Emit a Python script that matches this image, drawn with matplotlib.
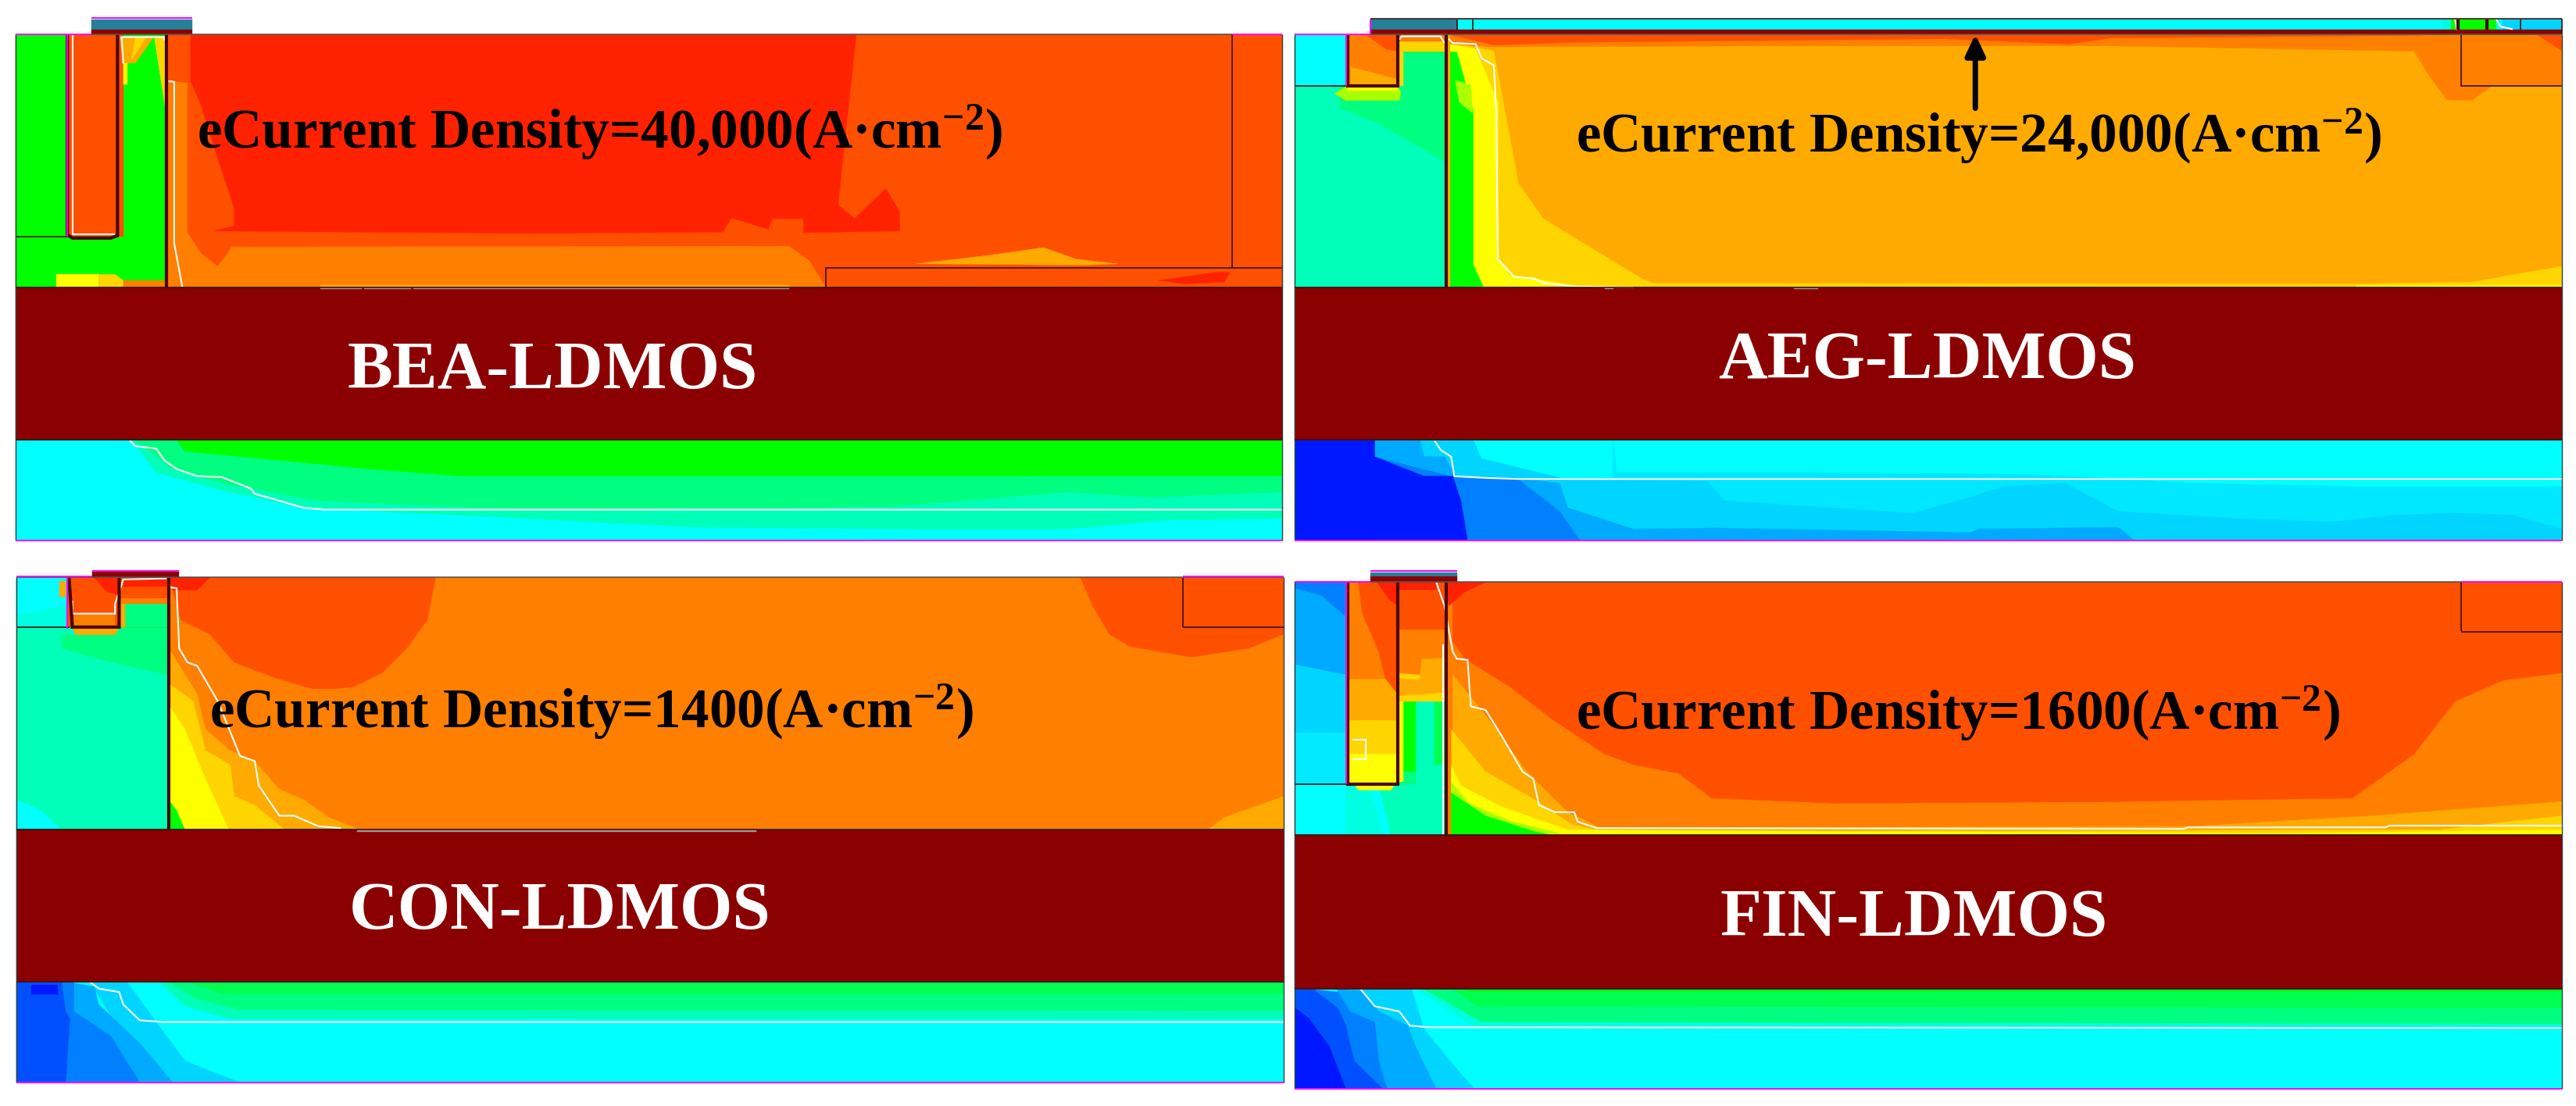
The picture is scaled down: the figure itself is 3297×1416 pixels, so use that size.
#!/usr/bin/env python3
"""Four LDMOS eCurrent density maps, redrawn as filled contour layers."""
import matplotlib
matplotlib.use('Agg')
import matplotlib.pyplot as plt

plt.rcParams['mathtext.default'] = 'regular'
plt.rcParams['font.family'] = ['Liberation Serif', 'DejaVu Serif']

W, H = 3298, 1416

# field colours, high to low
RED = '#ff2200'
ORED = '#ff5000'
ORG = '#ff7f00'
AMB = '#ffaa00'
GLD = '#ffd500'
YEL = '#ffff00'
YGR = '#aaff00'
GRN = '#00ff00'
G2 = '#00ff50'
G3 = '#00ff80'
SPR = '#00ffb8'
C2 = '#00ffe0'
CYA = '#00ffff'
S1 = '#00d5ff'
S2 = '#00aaff'
S3 = '#0080ff'
S4 = '#0050ff'
BLU = '#0018ff'
DRED = '#8b0000'
MAG = '#ff00ff'
TEAL = '#25809a'
EDGE = '#3a1010'


def box(x0, y0, x1, y1):
    return [(x0, y0), (x1, y0), (x1, y1), (x0, y1)]


labels = ['BEA-LDMOS', 'AEG-LDMOS', 'CON-LDMOS', 'FIN-LDMOS']
densities = ['40,000', '24,000', '1400', '1600']

# ---- BEA ----
bea_silicon = (19, 97, 1560, 815)
bea_oxide_bottom, bea_bottom = 1247, 1533
bea_layers = [
    (ORED, box(19, 97, 1560, 815)),
    (RED, [(232, 100), (1042, 100), (1020, 580), (1040, 620), (1078, 535), (1095, 600), (1095, 655),
           (978, 660), (978, 620), (940, 620), (935, 650), (890, 618), (880, 658), (650, 662), (260, 655),
           (285, 640), (285, 590), (265, 450), (245, 300), (232, 230)]),
    (ORG, [(205, 230), (228, 235), (228, 660), (245, 720), (265, 755), (275, 725), (282, 700), (960, 698),
           (985, 740), (1005, 815), (205, 815)]),
    (ORED, box(1005, 760, 1560, 815)),
    (AMB, [(1115, 748), (1200, 725), (1270, 702), (1310, 735), (1360, 748), (1320, 752)]),
    (RED, [(1410, 795), (1480, 772), (1497, 772), (1490, 800), (1440, 805)]),
    (AMB, box(390, 808, 960, 815)),
    (GRN, box(19, 97, 203, 815)),
    (ORED, box(82, 97, 143, 672)),
    (ORED, box(143, 97, 150, 672)),
    (AMB, [(146, 105), (187, 105), (165, 178), (150, 180)]),
    (GLD, [(187, 105), (202, 105), (202, 320), (188, 108)]),
    (GLD, [(165, 105), (178, 105), (160, 170)]),
    (YEL, box(150, 180, 155, 240)),
    (YEL, box(68, 778, 120, 815)),
    (GLD, [(120, 778), (140, 778), (150, 795), (150, 815), (120, 815)]),
    (ORG, box(150, 795, 203, 815)),
]
bea_sub_layers = [
    (CYA, box(19, 1247, 1560, 1533)),
    (SPR, [(160, 1247), (190, 1340), (270, 1390), (370, 1440), (600, 1465), (850, 1495), (1100, 1500),
           (1300, 1500), (1420, 1475), (1560, 1470), (1560, 1247)]),
    (G3, [(165, 1247), (210, 1330), (280, 1375), (390, 1420), (640, 1445), (950, 1440), (1090, 1435),
          (1300, 1395), (1400, 1410), (1560, 1395), (1560, 1247)]),
    (GRN, [(215, 1247), (225, 1280), (340, 1305), (450, 1330), (560, 1350), (1560, 1350), (1560, 1247)]),
]
bea_white = [[(205, 230), (212, 232), (212, 690), (220, 790), (222, 815)],
             [(88, 97), (88, 665), (140, 665)],
             [(150, 180), (148, 105), (200, 105), (200, 115)],
             [(158, 1250), (165, 1265), (190, 1272), (200, 1305), (215, 1330), (240, 1350), (270, 1353),
              (305, 1385), (310, 1400), (370, 1440), (395, 1445), (1560, 1445)]]
bea_dark = [[(203, 97), (203, 815)], [(143, 97), (143, 668), (135, 675), (88, 675), (82, 665), (82, 97)]]
bea_thin = [[(19, 672), (85, 672)], [(1500, 97), (1500, 760)], [(1560, 760), (1005, 760), (1005, 815)]]
bea_magenta = [[(19, 98), (111, 98)], [(1500, 97), (1560, 97)], [(111, 52), (234, 52)], [(19, 1533), (1560, 1533)],
               [(82, 100), (82, 670)]]

# ---- AEG ----
aeg_silicon = (8, 97, 1550, 815)
aeg_oxide_bottom, aeg_bottom = 1247, 1533
aeg_layers = [
    (AMB, box(8, 97, 1550, 815)),
    (GLD, [(197, 120), (250, 145), (280, 520), (310, 620), (430, 790), (445, 803), (1300, 805), (1440, 800),
           (1550, 755), (1550, 815), (197, 815)]),
    (YEL, [(197, 125), (228, 140), (255, 290), (255, 730), (270, 780), (350, 810), (197, 815)]),
    (YEL, box(1300, 808, 1550, 815)),
    (GRN, [(197, 147), (205, 147), (225, 316), (225, 750), (237, 812), (197, 815)]),
    (YGR, [(203, 228), (222, 240), (224, 320), (208, 290)]),
    (ORG, [(197, 100), (1550, 100), (1550, 243), (1465, 243), (1440, 285), (1410, 283), (1390, 220),
           (1370, 145), (1000, 130), (600, 130), (250, 133), (197, 125)]),
    (ORED, [(200, 100), (250, 128), (350, 120), (800, 110), (950, 125), (1000, 108), (1380, 100)]),
    (ORED, [(1520, 100), (1550, 100), (1550, 145)]),
    (SPR, box(8, 97, 192, 815)),
    (CYA, box(8, 97, 72, 243)),
    (G3, [(62, 243), (140, 243), (140, 147), (190, 147), (192, 460), (110, 350), (62, 305)]),
    (G2, box(140, 147, 190, 150)),
    (GLD, box(133, 115, 140, 243)),
    (GLD, box(133, 115, 192, 147)),
    (ORG, box(133, 97, 192, 118)),
    (YGR, [(56, 265), (72, 243), (133, 243), (137, 262), (135, 285), (70, 285)]),
    (YEL, box(72, 243, 133, 258)),
    (ORG, box(72, 97, 133, 243)),
    (ORED, [(95, 100), (133, 100), (133, 145), (120, 140)]),
    (AMB, [(76, 190), (133, 225), (133, 240), (76, 240)]),
]
aeg_sub_layers = [
    (CYA, box(8, 1247, 1550, 1533)),
    ('#00e8ff', [(395, 1247), (400, 1340), (640, 1340), (900, 1345), (1100, 1370), (1300, 1380), (1550, 1380),
                 (1550, 1533), (395, 1533)]),
    (S1, [(105, 1247), (225, 1247), (235, 1300), (340, 1360), (510, 1365), (530, 1420), (660, 1440), (760, 1455),
          (830, 1410), (870, 1380), (945, 1370), (1010, 1450), (1150, 1470), (1270, 1480), (1350, 1460),
          (1420, 1455), (1490, 1460), (1550, 1500), (1550, 1533), (105, 1533)]),
    (S2, [(105, 1247), (160, 1247), (165, 1295), (190, 1295), (205, 1350), (275, 1355), (330, 1370), (340, 1440),
          (420, 1500), (520, 1497), (830, 1510), (840, 1500), (1010, 1495), (1030, 1533), (105, 1533)]),
    (S3, [(105, 1295), (205, 1355), (280, 1360), (330, 1450), (355, 1533), (105, 1533)]),
    (BLU, [(8, 1247), (105, 1247), (105, 1295), (165, 1350), (200, 1350), (210, 1420), (218, 1533), (8, 1533)]),
]
aeg_top_layers = [
    (CYA, box(100, 55, 1550, 85)),
    (TEAL, box(100, 55, 205, 85)),
    (C2, box(1404, 55, 1415, 85)),
    (GRN, box(1415, 55, 1470, 85)),
    (C2, box(1470, 55, 1478, 85)),
    (S1, box(1478, 55, 1550, 85)),
    (DRED, box(100, 85, 1550, 97)),
]
aeg_white = [[(195, 110), (200, 122), (228, 125), (235, 165), (250, 185), (253, 320), (255, 735), (275, 785),
              (300, 790), (310, 802), (345, 812), (420, 815)],
             [(135, 112), (138, 103), (185, 103), (190, 122)],
             [(1420, 55), (1422, 85)], [(1470, 55), (1475, 75), (1490, 83)],
             [(178, 1250), (185, 1275), (198, 1295), (202, 1350), (240, 1355), (280, 1358), (1550, 1358)]]
aeg_dark = [[(192, 97), (192, 815)], [(72, 97), (72, 243), (133, 243), (133, 97)], [(1423, 55), (1423, 85)],
            [(1459, 55), (1459, 85)]]
aeg_thin = [[(8, 243), (72, 243)], [(1427, 97), (1427, 243), (1550, 243)], [(205, 55), (205, 85)], [(224, 55), (224, 85)],
            [(1500, 55), (1500, 85)], [(100, 54), (1550, 54)], [(1550, 54), (1550, 97)]]
aeg_magenta = [[(8, 98), (100, 98)], [(100, 55), (100, 97)], [(70, 100), (70, 243)], [(8, 1533), (1550, 1533)]]

# ---- CON ----
con_silicon = (20, 68, 1562, 785)
con_oxide_bottom, con_bottom = 1215, 1502
con_layers = [
    (ORG, box(20, 68, 1562, 785)),
    (ORED, [(225, 70), (530, 70), (520, 190), (495, 270), (465, 340), (430, 380), (405, 385), (380, 385), (330, 350),
            (285, 310), (255, 230), (220, 190), (210, 100)]),
    (ORED, [(1315, 70), (1562, 70), (1562, 230), (1520, 270), (1450, 295), (1375, 265), (1350, 230), (1330, 150)]),
    (RED, [(205, 68), (255, 70), (240, 105), (210, 105)]),
    (AMB, [(1470, 785), (1490, 750), (1562, 690), (1562, 785)]),
    (AMB, [(208, 280), (240, 400), (250, 500), (280, 560), (310, 590), (340, 670), (370, 700), (400, 750),
           (435, 782), (205, 785)]),
    (GLD, [(205, 370), (235, 420), (250, 560), (280, 600), (285, 690), (310, 715), (345, 782), (205, 785)]),
    (YEL, [(205, 430), (225, 500), (250, 640), (278, 783), (205, 785)]),
    (GRN, [(205, 700), (215, 730), (225, 785), (205, 785)]),
    (SPR, box(20, 68, 205, 785)),
    (C2, box(20, 70, 82, 210)),
    (CYA, [(20, 70), (75, 70), (82, 150), (20, 175)]),
    (CYA, [(20, 700), (50, 730), (75, 785), (20, 785)]),
    (G3, [(75, 232), (92, 232), (140, 232), (148, 210), (148, 145), (205, 145), (203, 345), (120, 300), (75, 270)]),
    (AMB, box(72, 80, 80, 125)),
    (AMB, [(88, 210), (145, 210), (140, 232), (92, 232)]),
    (ORED, box(82, 68, 205, 210)),
    (G3, [(148, 210), (148, 145), (205, 145), (205, 210)]),
    (AMB, box(146, 130, 152, 210)),
    (ORG, box(146, 128, 205, 145)),
    (RED, [(115, 70), (145, 70), (145, 120), (130, 110)]),
    (RED, box(150, 70, 205, 95)),
    (ORG, box(90, 175, 140, 210)),
]
con_sub_layers = [
    (CYA, box(20, 1217, 1562, 1502)),
    (SPR, [(195, 1217), (225, 1285), (280, 1320), (1562, 1320), (1562, 1217)]),
    (G3, [(205, 1217), (240, 1265), (290, 1295), (1562, 1298), (1562, 1217)]),
    (G2, [(230, 1217), (270, 1250), (1562, 1250), (1562, 1217)]),
    (S1, [(110, 1217), (155, 1217), (190, 1330), (225, 1440), (290, 1500), (185, 1502)]),
    (S2, [(85, 1217), (115, 1230), (120, 1280), (170, 1390), (210, 1500), (170, 1502), (85, 1502)]),
    (S3, [(75, 1217), (90, 1217), (90, 1300), (135, 1370), (170, 1502), (80, 1502)]),
    (S4, [(20, 1217), (75, 1217), (80, 1300), (85, 1320), (80, 1502), (20, 1502)]),
    (BLU, box(38, 1225, 70, 1252)),
]
con_white = [[(207, 97), (215, 100), (218, 270), (228, 310), (240, 320), (265, 420), (292, 575), (310, 590),
              (315, 660), (340, 745), (358, 745), (388, 775), (415, 780)],
             [(88, 135), (88, 172), (140, 172), (140, 145), (150, 75), (203, 72)],
             [(110, 1217), (120, 1235), (145, 1245), (150, 1280), (170, 1325), (200, 1330), (1562, 1330)]]
con_dark = [[(205, 68), (205, 785)], [(145, 68), (145, 210), (88, 210), (84, 68)]]
con_thin = [[(20, 210), (85, 210)], [(1440, 68), (1440, 210)]]
con_thick_right = [[(1440, 210), (1562, 210)]]
con_magenta = [[(20, 67), (112, 67)], [(1440, 67), (1562, 67)], [(112, 50), (218, 50)], [(82, 70), (82, 215)],
               [(20, 1502), (1562, 1502)]]

# ---- FIN ----
fin_silicon = (8, 81, 1550, 800)
fin_oxide_bottom, fin_bottom = 1235, 1520
fin_layers = [
    (ORG, box(8, 81, 1550, 800)),
    (ORED, [(200, 83), (1550, 83), (1550, 340), (1480, 360), (1420, 420), (1370, 570), (1295, 695), (1000, 705),
            (670, 710), (515, 695), (475, 625), (420, 600), (385, 570), (320, 470), (270, 380), (215, 300), (200, 250)]),
    (RED, [(192, 83), (240, 83), (215, 110), (195, 150)]),
    (AMB, [(200, 345), (250, 490), (290, 620), (340, 735), (380, 780), (1100, 775), (1320, 745), (1550, 705),
           (1550, 800), (200, 800)]),
    (GLD, [(198, 500), (240, 620), (300, 700), (345, 770), (385, 790), (1400, 785), (1550, 745), (1550, 800), (200, 800)]),
    (YEL, [(198, 600), (210, 660), (260, 720), (340, 785), (1200, 795), (1550, 785), (1550, 800), (198, 800)]),
    (YGR, [(198, 650), (220, 710), (270, 760), (330, 795), (198, 800)]),
    (GRN, [(198, 680), (240, 745), (300, 790), (320, 800), (198, 800)]),
    (CYA, box(8, 83, 190, 800)),
    (S1, box(8, 315, 70, 510)),
    ('#00eaff', box(8, 510, 70, 655)),
    (S2, [(8, 100), (40, 120), (70, 180), (70, 345), (8, 315)]),
    (S3, [(8, 83), (70, 83), (70, 180), (40, 120), (8, 100)]),
    (C2, [(70, 655), (100, 672), (115, 800), (70, 800)]),
    (SPR, [(110, 660), (135, 655), (135, 420), (190, 420), (190, 800), (125, 800)]),
    (GRN, box(140, 420, 155, 620)),
    (G3, box(135, 620, 155, 655)),
    (G2, box(178, 420, 190, 600)),
    (YEL, box(133, 400, 140, 650)),
    (GLD, box(133, 300, 190, 420)),
    (AMB, [(133, 355), (160, 360), (162, 300), (190, 298), (190, 395), (133, 405)]),
    (ORG, [(133, 215), (190, 215), (190, 298), (162, 300), (160, 345), (133, 340)]),
    (ORED, box(133, 83, 190, 218)),
    (RED, box(135, 83, 180, 105)),
    (YEL, box(72, 570, 133, 655)),
    (GLD, box(72, 475, 133, 570)),
    (AMB, box(72, 357, 133, 475)),
    (ORG, box(72, 83, 133, 357)),
    (ORED, [(85, 83), (133, 83), (133, 400), (118, 355), (110, 280), (90, 170)]),
    (RED, [(108, 83), (133, 83), (133, 150), (122, 130)]),
    (YEL, [(80, 655), (130, 655), (125, 672), (85, 672)]),
]
fin_sub_layers = [
    (CYA, box(8, 1237, 1550, 1520)),
    (C2, [(155, 1237), (210, 1320), (230, 1350), (1550, 1350), (1550, 1237)]),
    (G3, [(165, 1237), (205, 1290), (235, 1330), (1550, 1335), (1550, 1237)]),
    (G2, [(200, 1237), (230, 1285), (1550, 1290), (1550, 1237)]),
    (GRN, box(220, 1237, 1550, 1242)),
    (S1, [(90, 1237), (150, 1237), (165, 1350), (200, 1450), (225, 1515), (180, 1520), (90, 1520)]),
    (S2, [(60, 1237), (90, 1240), (110, 1300), (145, 1340), (155, 1400), (180, 1520), (60, 1520)]),
    (S3, [(30, 1237), (60, 1245), (75, 1300), (105, 1330), (110, 1440), (120, 1520), (30, 1520)]),
    (S4, [(8, 1237), (30, 1237), (60, 1290), (70, 1340), (80, 1440), (115, 1520), (8, 1520)]),
    (BLU, [(8, 1290), (25, 1320), (50, 1400), (70, 1520), (8, 1520)]),
]
fin_white = [[(180, 83), (190, 150), (200, 280), (205, 300), (218, 303), (222, 435), (240, 445), (260, 520),
              (285, 620), (298, 640), (305, 715), (325, 735), (348, 735), (352, 762), (375, 780), (1090, 782),
              (1095, 778), (1335, 778), (1340, 773), (1550, 773)],
             [(188, 260), (188, 798)], [(133, 85), (133, 140)],
             [(78, 530), (94, 530), (94, 585), (78, 585)],
             [(88, 1237), (105, 1285), (135, 1300), (148, 1340), (172, 1345), (1550, 1347)]]
fin_dark = [[(192, 83), (192, 800)], [(72, 83), (72, 655), (133, 655), (133, 83)]]
fin_thin = [[(8, 655), (72, 655)], [(1427, 83), (1427, 222)]]
fin_thick_right = [[(1427, 224), (1550, 224)]]
fin_magenta = [[(8, 81), (100, 81)], [(1427, 81), (1550, 81)], [(100, 52), (205, 52)], [(70, 83), (70, 655)],
               [(8, 1520), (1550, 1520)]]

# crop origin of each panel, silicon boxes etc.
origins = [(0, 0), (1649, 0), (0, 708), (1649, 708)]
silicon = [bea_silicon, aeg_silicon, con_silicon, fin_silicon]
oxide_bottom = [bea_oxide_bottom, aeg_oxide_bottom, con_oxide_bottom, fin_oxide_bottom]
bottoms = [bea_bottom, aeg_bottom, con_bottom, fin_bottom]
layers = [bea_layers, aeg_layers, con_layers, fin_layers]
sub_layers = [bea_sub_layers, aeg_sub_layers, con_sub_layers, fin_sub_layers]
whites = [bea_white, aeg_white, con_white, fin_white]
darks = [bea_dark, aeg_dark, con_dark, fin_dark]
thins = [bea_thin, aeg_thin, con_thin + con_thick_right, fin_thin + fin_thick_right]
magentas = [bea_magenta, aeg_magenta, con_magenta, fin_magenta]
gates = [(111, 234, 55, 85, 97), (100, 205, 55, 85, 97), (112, 218, 52, 52, 68), (100, 205, 55, 67, 81)]
density_pos = [(240, 420), (350, 432), (255, 495), (350, 500)]
label_pos = [(423, 1100), (523, 1073), (425, 1066), (525, 1085)]
grey_marks = [[(390, 440), (443, 500), (503, 532), (532, 960)], [(385, 396), (615, 645)], [(435, 920)], []]

fig = plt.figure(figsize=(W / 100, H / 100), dpi=100, facecolor='white')


def line(ax, pts, color, lw):
    xs, ys = zip(*pts)
    ax.plot(xs, ys, color=color, lw=lw, solid_capstyle='butt', solid_joinstyle='miter')


def fill(ax, items):
    for color, pts in items:
        xs, ys = zip(*pts)
        ax.fill(xs, ys, color=color, lw=0.3)


for i in range(4):
    ox, oy = origins[i]
    ax = fig.add_axes([ox / W, 1 - (oy + 708) / H, 1649 / W, 708 / H])
    # the crops I read the shapes from were shown 1568 square
    ax.set_xlim(0, 1568)
    ax.set_ylim(1568, 0)
    ax.set_autoscale_on(False)
    ax.axis('off')

    x0, y0, x1, y1 = silicon[i]
    fill(ax, layers[i])
    fill(ax, sub_layers[i])
    fill(ax, [(DRED, box(x0, y1, x1, oxide_bottom[i]))])

    # gate stack on top of the silicon
    gx0, gx1, gy0, gy1, gy2 = gates[i]
    if gy1 > gy0:
        fill(ax, [(TEAL, box(gx0, gy0, gx1, gy1))])
    fill(ax, [(DRED, box(gx0, gy1, gx1, gy2))])
    if i == 1:
        fill(ax, aeg_top_layers)

    for m in grey_marks[i]:
        fill(ax, [('#a09a98', box(m[0], y1 - 1, m[1], y1 + 5))])
    if i == 2:
        line(ax, [(920, y1 - 3), (x1, y1 - 3)], '#c8c0b8', 1.0)

    for pts in whites[i]:
        line(ax, pts, 'white', 1.5)
    for pts in darks[i]:
        line(ax, pts, '#4a0505', 3.0)
    for pts in thins[i]:
        line(ax, pts, EDGE, 1.2)

    # panel edges
    line(ax, [(x0, y0), (x1, y0)], '#555555', 1.2)
    line(ax, [(x0, y0), (x0, bottoms[i])], '#304040', 1.0)
    line(ax, [(x1, y0), (x1, bottoms[i])], '#304040', 1.0)
    line(ax, [(x0, y1), (x1, y1)], EDGE, 1.2)
    line(ax, [(x0, oxide_bottom[i]), (x1, oxide_bottom[i])], EDGE, 1.2)
    for pts in magentas[i]:
        line(ax, pts, MAG, 1.4)

    if i == 1:
        ax.annotate('', xy=(836, 97), xytext=(836, 307),
                    arrowprops=dict(arrowstyle='-|>,head_width=0.75,head_length=1.6', color='black', lw=5,
                                    shrinkA=0, shrinkB=0))

    tx, ty = density_pos[i]
    ax.text(tx, ty, 'eCurrent Density=' + densities[i] + '(A·cm$^{−2}$)', color='black', fontsize=51.2,
            fontweight='bold', ha='left', va='baseline')
    lx, ly = label_pos[i]
    ax.text(lx, ly, labels[i], color='white', fontsize=62.5, fontweight='bold', ha='left', va='baseline')

fig.savefig('out.png', dpi=100)
